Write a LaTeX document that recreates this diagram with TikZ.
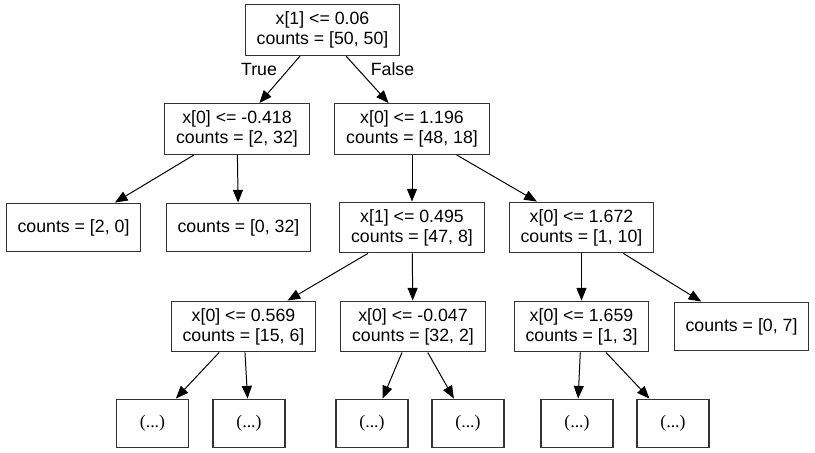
\documentclass[tikz,border=0pt]{standalone}
\usepackage{fontspec}
\setmainfont{Liberation Sans}
\newfontfamily\dotsfont{Liberation Serif}
\usepackage{xcolor}
\usepackage{tikz}
\usetikzlibrary{arrows.meta}
\definecolor{bg}{HTML}{FFFFFF}
\definecolor{ink}{HTML}{000000}
\definecolor{frame}{HTML}{333333}
\tikzset{
  box/.style={draw=frame, line width=0.9pt, align=center, inner xsep=8.5pt, inner ysep=0pt,
    minimum height=38pt, text=ink, font=\fontsize{13.3}{15}\selectfont},
  leafbox/.style={box, minimum height=36.5pt},
  morebox/.style={leafbox, minimum width=54pt, font=\fontsize{13.3}{15}\dotsfont},
  edge/.style={draw=ink, line width=0.75pt, -{Triangle[length=9.5pt,width=7.5pt]}},
  elab/.style={text=ink, font=\fontsize{13.3}{15}\selectfont},
}
\begin{document}
\begin{tikzpicture}[x=0.75pt,y=-0.75pt]
  \fill[bg] (0,0) rectangle (815,453);
  \useasboundingbox (0,0) rectangle (815,453);

  \node[box] (root) at (322.5,30) {x[1] <= 0.06\\counts = [50, 50]};
  \node[box] (nA) at (237,129) {x[0] <= -0.418\\counts = [2, 32]};
  \node[box] (nB) at (412,129) {x[0] <= 1.196\\counts = [48, 18]};

  \node[leafbox] (lA) at (73.5,227.5) {counts = [2, 0]};
  \node[leafbox] (lB) at (238.5,227.5) {counts = [0, 32]};
  \node[box] (nC) at (412,227.5) {x[1] <= 0.495\\counts = [47, 8]};
  \node[box] (nD) at (581.5,227.5) {x[0] <= 1.672\\counts = [1, 10]};

  \node[box] (nE) at (243.5,326.5) {x[0] <= 0.569\\counts = [15, 6]};
  \node[box] (nF) at (413,326.5) {x[0] <= -0.047\\counts = [32, 2]};
  \node[box] (nG) at (581.5,326.5) {x[0] <= 1.659\\counts = [1, 3]};
  \node[leafbox] (lC) at (741.5,326.5) {counts = [0, 7]};

  \node[morebox] (mA) at (152.5,423.5) {(...)};
  \node[morebox] (mB) at (249,423.5) {(...)};
  \node[morebox] (mC) at (372,423.5) {(...)};
  \node[morebox] (mD) at (468,423.5) {(...)};
  \node[morebox] (mE) at (577,423.5) {(...)};
  \node[morebox] (mF) at (673,423.5) {(...)};

  \node[elab] (tlab) at (259,69) {True};
  \node[elab] (flab) at (392.5,69) {False};

  \draw[edge] (root) -- (nA);
  \draw[edge] (root) -- (nB);
  \draw[edge] (nA) -- (lA);
  \draw[edge] (nA) -- (lB);
  \draw[edge] (nB) -- (nC);
  \draw[edge] (nB) -- (nD);
  \draw[edge] (nC) -- (nE);
  \draw[edge] (nC) -- (nF);
  \draw[edge] (nD) -- (nG);
  \draw[edge] (nD) -- (lC);
  \draw[edge] (nE) -- (mA);
  \draw[edge] (nE) -- (mB);
  \draw[edge] (nF) -- (mC);
  \draw[edge] (nF) -- (mD);
  \draw[edge] (nG) -- (mE);
  \draw[edge] (nG) -- (mF);
\end{tikzpicture}
\end{document}
